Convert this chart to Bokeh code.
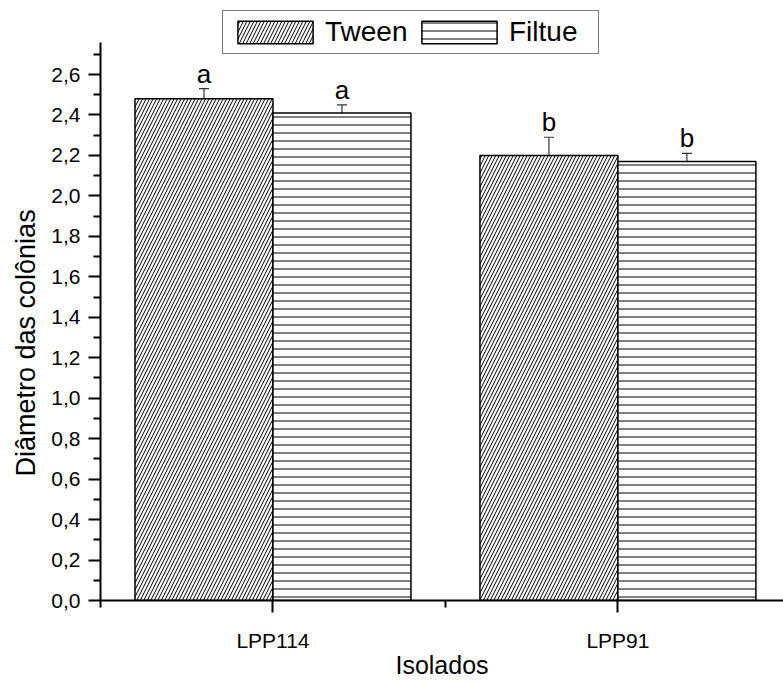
from bokeh.plotting import figure
from bokeh.models import (ColumnDataSource, FixedTicker, CustomJSTickFormatter, Whisker,
                          TeeHead, Legend, LegendItem, Range1d, Title)
from bokeh.core.properties import value
from bokeh.embed import file_html
from bokeh.resources import INLINE

categories = ["LPP114", "LPP91"]
tween = [2.48, 2.20]
tween_err = [0.05, 0.09]
filtue = [2.41, 2.17]
filtue_err = [0.04, 0.04]
tween_letters = ["a", "b"]
filtue_letters = ["a", "b"]
y_ticks = [0.0, 0.2, 0.4, 0.6, 0.8, 1.0, 1.2, 1.4, 1.6, 1.8, 2.0, 2.2, 2.4, 2.6]
y_minor = [0.1, 0.3, 0.5, 0.7, 0.9, 1.1, 1.3, 1.5, 1.7, 1.9, 2.1, 2.3, 2.5, 2.7]
y_title = "Diâmetro das colônias"
x_title = "Isolados"

FONT = "Liberation Sans"
pos = [i + 1 for i in range(len(categories))]
bw = 0.4

src_t = ColumnDataSource(dict(x=[p - bw / 2 for p in pos], top=tween,
                              up=[v + e for v, e in zip(tween, tween_err)], lab=tween_letters))
src_f = ColumnDataSource(dict(x=[p + bw / 2 for p in pos], top=filtue,
                              up=[v + e for v, e in zip(filtue, filtue_err)], lab=filtue_letters))

p = figure(width=783, height=684, output_backend="svg", toolbar_location=None,
           x_range=Range1d(0.5, 2.48), y_range=Range1d(0, 2.966),
           min_border_left=100, min_border_right=0, min_border_top=0, min_border_bottom=84)
p.outline_line_color = None
p.xgrid.visible = False
p.ygrid.visible = False
p.background_fill_color = "white"

r_t = p.vbar(x="x", top="top", width=bw, source=src_t, fill_color="white", line_color="black",
             line_width=1.5, hatch_pattern="/", hatch_color="black", hatch_scale=7, hatch_weight=1)
r_f = p.vbar(x="x", top="top", width=bw, source=src_f, fill_color="white", line_color="black",
             line_width=1.5, hatch_pattern="-", hatch_color="black", hatch_scale=8, hatch_weight=1)

for src in (src_t, src_f):
    w = Whisker(source=src, base="x", lower="top", upper="up", dimension="height",
                line_color="#333333", line_width=1.2,
                upper_head=TeeHead(size=10, line_color="#333333", line_width=1.2), lower_head=None)
    p.add_layout(w)
    p.text(x="x", y="up", text="lab", source=src, text_align="center", text_baseline="bottom",
           y_offset=0, text_font=value(FONT), text_font_size="26px", text_color="black")

# axes
ya = p.yaxis[0]
ya.ticker = FixedTicker(ticks=y_ticks, minor_ticks=y_minor)
ya.formatter = CustomJSTickFormatter(code="return tick.toFixed(1).replace('.', ',')")
ya.bounds = (0, 2.76)
xa = p.xaxis[0]
xa.ticker = FixedTicker(ticks=pos, minor_ticks=[0.5, 1.5, 2.5])
xa.major_label_overrides = {pp: c for pp, c in zip(pos, categories)}
xa.axis_label = x_title
for ax in (ya, xa):
    ax.axis_line_width = 2
    ax.axis_line_color = "black"
    ax.major_tick_in = 0
    ax.major_tick_out = 12
    ax.minor_tick_in = 0
    ax.minor_tick_out = 7
    ax.major_tick_line_width = 2
    ax.minor_tick_line_width = 2
    ax.major_label_text_font = FONT
    ax.major_label_text_font_size = "21px"
    ax.major_label_text_color = "black"
    ax.axis_label_text_font = FONT
    ax.axis_label_text_font_size = "25px"
    ax.axis_label_text_font_style = "normal"
    ax.axis_label_text_color = "black"
ya.major_label_standoff = 8
xa.major_label_standoff = 16
xa.axis_label_standoff = -4

# y-axis title, placed along the drawn axis span
p.add_layout(Title(text=y_title, align="left", offset=124, standoff=16,
                   text_font=FONT, text_font_size="27px", text_font_style="normal",
                   text_color="black"), "left")

legend = Legend(items=[LegendItem(label="Tween", renderers=[r_t]),
                       LegendItem(label="Filtue", renderers=[r_f])],
                orientation="horizontal", location=(122, 546),
                border_line_color="black", border_line_width=1.5, background_fill_alpha=1,
                padding=5, spacing=3, margin=0, glyph_width=94, glyph_height=28,
                label_standoff=3, label_width=84, label_text_color="black",
                label_text_font=FONT, label_text_font_size="28px")
p.add_layout(legend)

open("out.html", "w").write(file_html(p, INLINE))
